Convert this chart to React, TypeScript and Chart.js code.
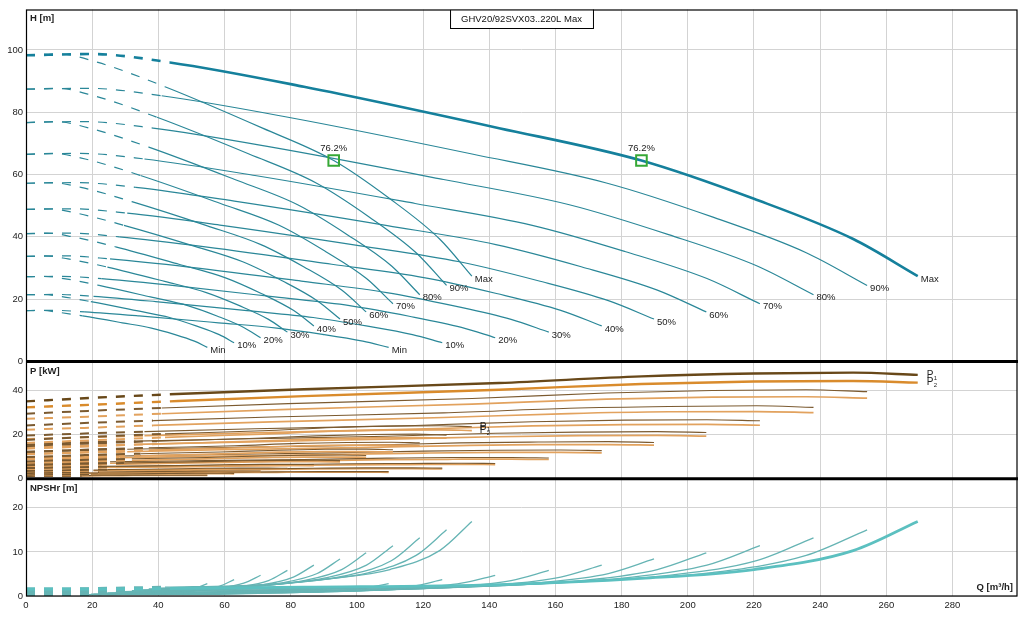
import React, { useEffect, useRef } from "react";
import { Chart, registerables } from "chart.js";

Chart.register(...registerables);

const FONT = "'Liberation Sans', Arial, sans-serif";

const speeds = ["Max", "90%", "80%", "70%", "60%", "50%", "40%", "30%", "20%", "10%", "Min"];

// flow points of each speed curve, one pump running [m³/h]
const singleQ = [
  [0, 10, 21.75, 42, 71.5, 93, 110, 125, 134.75],
  [0, 9.4, 20.5, 39.6, 67.4, 87.7, 103.7, 117.9, 127.1],
  [0, 8.8, 19.2, 37.1, 63.1, 82.1, 97.1, 110.4, 119.0],
  [0, 8.2, 17.9, 34.6, 58.8, 76.5, 90.5, 102.9, 110.9],
  [0, 7.6, 16.6, 32.0, 54.6, 71.0, 83.9, 95.4, 102.8],
  [0, 7.0, 15.3, 29.6, 50.3, 65.5, 77.4, 88.0, 94.9],
  [0, 6.5, 14.1, 27.1, 46.2, 60.1, 71.1, 80.8, 87.0],
  [0, 5.9, 12.7, 24.6, 41.9, 54.5, 64.5, 73.3, 79.0],
  [0, 5.3, 11.4, 22.1, 37.6, 48.9, 57.9, 65.8, 70.9],
  [0, 4.7, 10.2, 19.6, 33.4, 43.4, 51.4, 58.4, 62.9],
  [0, 4.1, 8.9, 17.1, 29.1, 37.9, 44.8, 50.9, 54.8],
];

// flow points, both pumps running
const twinQ = [
  [0, 20, 43.5, 84, 143, 186, 220, 250, 269.5],
  [0, 18.8, 41, 79.2, 134.8, 175.4, 207.4, 235.8, 254.2],
  [0, 17.6, 38.4, 74.2, 126.2, 164.2, 194.2, 220.8, 238],
  [0, 16.4, 35.8, 69.2, 117.6, 153, 181, 205.8, 221.8],
  [0, 15.2, 33.2, 64, 109.2, 142, 167.8, 190.8, 205.6],
  [0, 14, 30.6, 59.2, 100.6, 131, 154.8, 176, 189.8],
  [0, 13, 28.2, 54.2, 92.4, 120.2, 142.2, 161.6, 174],
  [0, 11.8, 25.4, 49.2, 83.8, 109, 129, 146.6, 158],
  [0, 10.6, 22.8, 44.2, 75.2, 97.8, 115.8, 131.6, 141.8],
  [0, 9.4, 20.4, 39.2, 66.8, 86.8, 102.8, 116.8, 125.8],
  [0, 8.2, 17.8, 34.2, 58.2, 75.8, 89.6, 101.8, 109.6],
];

// head [m] at those points (same for one and two pumps)
const headH = [
  [98.3, 98.7, 96.0, 88.2, 74.9, 64.5, 52.2, 39.3, 27.4],
  [87.4, 87.7, 85.3, 78.4, 66.6, 57.3, 46.4, 34.9, 24.4],
  [76.7, 77.0, 74.9, 68.8, 58.4, 50.3, 40.7, 30.7, 21.4],
  [66.5, 66.8, 65.0, 59.7, 50.7, 43.7, 35.3, 26.6, 18.5],
  [57.2, 57.4, 55.9, 51.3, 43.6, 37.5, 30.4, 22.9, 15.9],
  [48.8, 49.0, 47.6, 43.7, 37.2, 32.0, 25.9, 19.5, 13.6],
  [41.0, 41.2, 40.0, 36.8, 31.2, 26.9, 21.8, 16.4, 11.4],
  [33.7, 33.9, 32.9, 30.3, 25.7, 22.1, 17.9, 13.5, 9.4],
  [27.2, 27.3, 26.6, 24.4, 20.7, 17.9, 14.5, 10.9, 7.6],
  [21.4, 21.5, 20.9, 19.2, 16.3, 14.1, 11.4, 8.6, 6.0],
  [16.3, 16.4, 15.9, 14.6, 12.4, 10.7, 8.7, 6.5, 4.5],
];

// power input P1 / shaft power P2 [kW], one pump
const singleP1 = [
  [17.5, 18.3, 19.1, 20.3, 21.7, 23.2, 23.8, 24.0, 23.5],
  [14.7, 15.4, 16.0, 17.0, 18.2, 19.4, 20.0, 20.2, 19.7],
  [12.1, 12.6, 13.2, 14.0, 14.9, 16.0, 16.4, 16.5, 16.2],
  [9.8, 10.2, 10.7, 11.3, 12.1, 12.9, 13.3, 13.4, 13.1],
  [7.8, 8.2, 8.5, 9.0, 9.6, 10.3, 10.6, 10.7, 10.5],
  [6.1, 6.4, 6.7, 7.1, 7.6, 8.1, 8.3, 8.4, 8.2],
  [4.8, 5.0, 5.2, 5.5, 5.9, 6.3, 6.5, 6.5, 6.4],
  [3.5, 3.7, 3.9, 4.1, 4.4, 4.7, 4.8, 4.8, 4.7],
  [2.6, 2.7, 2.8, 3.0, 3.2, 3.4, 3.5, 3.5, 3.5],
  [1.8, 1.9, 2.0, 2.1, 2.2, 2.4, 2.5, 2.5, 2.4],
  [1.2, 1.3, 1.3, 1.4, 1.5, 1.6, 1.6, 1.6, 1.6],
];
const singleP2 = [
  [16.2, 16.8, 17.5, 18.7, 20.2, 21.5, 22.0, 22.1, 21.8],
  [13.6, 14.1, 14.7, 15.7, 16.9, 18.0, 18.5, 18.6, 18.3],
  [11.1, 11.5, 12.1, 12.9, 13.9, 14.8, 15.2, 15.2, 15.0],
  [9.0, 9.4, 9.8, 10.4, 11.2, 12.0, 12.3, 12.3, 12.1],
  [7.2, 7.5, 7.8, 8.3, 9.0, 9.5, 9.8, 9.8, 9.7],
  [5.7, 5.9, 6.1, 6.6, 7.1, 7.5, 7.7, 7.7, 7.6],
  [4.4, 4.5, 4.8, 5.1, 5.5, 5.8, 6.0, 6.0, 5.9],
  [3.3, 3.4, 3.5, 3.8, 4.1, 4.3, 4.4, 4.5, 4.4],
  [2.4, 2.5, 2.6, 2.8, 3.0, 3.2, 3.2, 3.3, 3.2],
  [1.7, 1.7, 1.8, 1.9, 2.1, 2.2, 2.3, 2.3, 2.2],
  [1.1, 1.2, 1.2, 1.3, 1.4, 1.5, 1.5, 1.5, 1.5],
];

// power, two pumps
const twinP1 = [
  [35.0, 36.6, 38.2, 40.5, 43.3, 46.3, 47.6, 48.0, 47.0],
  [29.4, 30.7, 32.0, 34.0, 36.3, 38.8, 39.9, 40.3, 39.4],
  [24.1, 25.2, 26.3, 27.9, 29.8, 31.9, 32.7, 33.0, 32.3],
  [19.5, 20.4, 21.3, 22.6, 24.1, 25.8, 26.5, 26.7, 26.2],
  [15.5, 16.3, 17.0, 18.0, 19.2, 20.6, 21.1, 21.3, 20.9],
  [12.2, 12.8, 13.3, 14.1, 15.1, 16.2, 16.6, 16.8, 16.4],
  [9.5, 9.9, 10.3, 10.9, 11.7, 12.5, 12.9, 13.0, 12.7],
  [7.0, 7.4, 7.7, 8.1, 8.7, 9.3, 9.6, 9.6, 9.4],
  [5.1, 5.3, 5.6, 5.9, 6.3, 6.8, 6.9, 7.0, 6.9],
  [3.6, 3.7, 3.9, 4.1, 4.4, 4.7, 4.9, 4.9, 4.8],
  [2.4, 2.5, 2.6, 2.7, 2.9, 3.1, 3.2, 3.2, 3.2],
];
const twinP2 = [
  [32.3, 33.5, 35.0, 37.4, 40.3, 42.9, 44.0, 44.2, 43.5],
  [27.1, 28.1, 29.4, 31.4, 33.8, 36.0, 36.9, 37.1, 36.5],
  [22.2, 23.0, 24.1, 25.7, 27.7, 29.5, 30.3, 30.4, 29.9],
  [18.0, 18.7, 19.5, 20.8, 22.4, 23.9, 24.5, 24.6, 24.2],
  [14.3, 14.9, 15.5, 16.6, 17.9, 19.0, 19.5, 19.6, 19.3],
  [11.3, 11.7, 12.2, 13.1, 14.1, 15.0, 15.4, 15.4, 15.2],
  [8.7, 9.0, 9.5, 10.1, 10.9, 11.6, 11.9, 11.9, 11.7],
  [6.5, 6.7, 7.0, 7.5, 8.1, 8.6, 8.8, 8.9, 8.7],
  [4.7, 4.9, 5.1, 5.5, 5.9, 6.3, 6.4, 6.5, 6.4],
  [3.3, 3.4, 3.6, 3.8, 4.1, 4.4, 4.5, 4.5, 4.4],
  [2.2, 2.3, 2.4, 2.5, 2.7, 2.9, 3.0, 3.0, 2.9],
];

// NPSHr [m] (same for one and two pumps at matching points)
const npshR = [
  [1.6, 1.6, 1.7, 2.0, 2.6, 4.0, 6.0, 10.3, 16.9],
  [1.4, 1.4, 1.5, 1.8, 2.3, 3.6, 5.3, 9.2, 15.0],
  [1.2, 1.2, 1.3, 1.6, 2.0, 3.1, 4.7, 8.0, 13.2],
  [1.1, 1.1, 1.2, 1.4, 1.8, 2.7, 4.1, 7.0, 11.4],
  [0.9, 0.9, 1.0, 1.2, 1.5, 2.3, 3.5, 6.0, 9.8],
  [0.8, 0.8, 0.8, 1.0, 1.3, 2.0, 3.0, 5.1, 8.4],
  [0.7, 0.7, 0.7, 0.8, 1.1, 1.7, 2.5, 4.3, 7.0],
  [0.5, 0.5, 0.6, 0.7, 0.9, 1.4, 2.1, 3.5, 5.8],
  [0.4, 0.4, 0.5, 0.6, 0.7, 1.1, 1.7, 2.9, 4.7],
  [0.3, 0.3, 0.4, 0.4, 0.6, 0.9, 1.3, 2.2, 3.7],
  [0.3, 0.3, 0.3, 0.3, 0.4, 0.7, 1.0, 1.7, 2.8],
];

// duty points
const markerQ = [93, 186];
const markerH = [64.5, 64.5];
const markerText = ["76.2%", "76.2%"];

const title = "GHV20/92SVX03..220L Max";

// below minimum flow the curves are dashed (index of last dashed point)
const SINGLE_DASH = 3;
const TWIN_DASH = 2;

const GRID = "#d3d3d3";
const HEAD = "#2a8798";
const HEAD_MAX = "#15809c";
const P1 = "#7b5a30";
const P2 = "#e2a25e";
const P1_MAX = "#684819";
const P2_MAX = "#d98b2c";
const NPSH = "#66b4b4";
const NPSH_MAX = "#5cc0c0";

const pts = (xs: number[], ys: number[]) => xs.map((x, i) => ({ x, y: ys[i] }));

function curve(xs: number[], ys: number[], axis: string, color: string, width: number, dashEnd: number, dashWidth = width) {
  return {
    type: "line" as const,
    data: pts(xs, ys),
    yAxisID: axis,
    borderColor: color,
    borderWidth: width,
    pointRadius: 0,
    pointHoverRadius: 0,
    fill: false,
    cubicInterpolationMode: "monotone" as const,
    segment: {
      borderDash: (c: any) => (c.p1DataIndex <= dashEnd ? [9, 9] : undefined),
      borderWidth: (c: any) => (c.p1DataIndex <= dashEnd ? dashWidth : undefined),
    },
  };
}

// no extra room for half tick labels at the panel edges
const noEdgePadding = (s: any) => {
  s.paddingTop = 0;
  s.paddingBottom = 0;
  s.paddingLeft = 0;
  s.paddingRight = 0;
};

function yAxis(weight: number, max: number, step: number) {
  return {
    type: "linear" as const,
    position: "left" as const,
    stack: "panels",
    stackWeight: weight,
    min: 0,
    max,
    grid: { color: GRID, drawTicks: false },
    border: { display: false },
    ticks: { stepSize: step, includeBounds: false, padding: 3, color: "#222", font: { size: 9.5 } },
    afterFit: (s: any) => {
      s.width = 26;
      noEdgePadding(s);
    },
  };
}

function pLabel(ctx: CanvasRenderingContext2D, x: number, y: number, sub: string) {
  ctx.textAlign = "left";
  ctx.font = `10px ${FONT}`;
  ctx.fillText("P", x, y);
  ctx.font = `6px ${FONT}`;
  ctx.fillText(sub, x + 7, y + 3);
}

const decorations = {
  id: "decorations",
  afterDraw(chart: any) {
    const { ctx, chartArea: a, scales } = chart;
    const { x, head, power, npsh } = scales;
    ctx.save();

    // frame and panel separators
    ctx.strokeStyle = "#000";
    ctx.lineWidth = 1.2;
    ctx.strokeRect(a.left + 0.5, a.top + 0.5, a.right - a.left - 0.5, a.bottom - a.top - 0.5);
    ctx.lineWidth = 3;
    for (const y of [head.bottom, power.bottom]) {
      ctx.beginPath();
      ctx.moveTo(a.left, y);
      ctx.lineTo(a.right + 1, y);
      ctx.stroke();
    }

    ctx.fillStyle = "#222";
    ctx.textBaseline = "middle";
    ctx.font = `9.5px ${FONT}`;
    ctx.textAlign = "left";

    // speed labels at curve ends
    speeds.forEach((s, i) => {
      for (const qs of [singleQ[i], twinQ[i]]) {
        const n = qs.length - 1;
        ctx.fillText(s, x.getPixelForValue(qs[n]) + 3, head.getPixelForValue(headH[i][n]) + 3);
      }
    });

    // efficiency at duty points
    ctx.textAlign = "center";
    markerQ.forEach((q, i) => {
      ctx.fillText(markerText[i], x.getPixelForValue(q), head.getPixelForValue(markerH[i]) - 12);
    });

    // P1 / P2 labels
    const last = twinQ[0].length - 1;
    pLabel(ctx, x.getPixelForValue(twinQ[0][last]) + 9, power.getPixelForValue(twinP1[0][last]), "1");
    pLabel(ctx, x.getPixelForValue(twinQ[0][last]) + 9, power.getPixelForValue(twinP2[0][last]), "2");
    pLabel(ctx, x.getPixelForValue(singleQ[0][last]) + 8, power.getPixelForValue(singleP1[0][last]), "1");
    pLabel(ctx, x.getPixelForValue(singleQ[0][last]) + 8, power.getPixelForValue(singleP2[0][last]), "2");

    // axis titles
    ctx.font = `bold 9.5px ${FONT}`;
    ctx.textAlign = "left";
    ctx.fillText("H [m]", a.left + 4, a.top + 9);
    ctx.fillText("P [kW]", a.left + 4, power.top + 10);
    ctx.fillText("NPSHr [m]", a.left + 4, npsh.top + 10);
    ctx.textAlign = "right";
    ctx.fillText("Q [m³/h]", a.right - 4, a.bottom - 9);

    // title box
    ctx.font = `9.5px ${FONT}`;
    const w = ctx.measureText(title).width + 22;
    const cx = (a.left + a.right) / 2;
    ctx.fillStyle = "#fff";
    ctx.fillRect(cx - w / 2, a.top, w, 19);
    ctx.lineWidth = 1;
    ctx.strokeRect(cx - w / 2 + 0.5, a.top + 0.5, w, 18.5);
    ctx.fillStyle = "#111";
    ctx.textAlign = "center";
    ctx.fillText(title, cx, a.top + 10);

    ctx.restore();
  },
};

export default function App() {
  const chartRef = useRef<HTMLCanvasElement | null>(null);

  useEffect(() => {
    Chart.defaults.font.family = FONT;
    Chart.defaults.font.size = 9.5;

    const datasets: any[] = [
      {
        type: "line",
        data: pts(markerQ, markerH),
        yAxisID: "head",
        showLine: false,
        pointStyle: "rect",
        pointRadius: 7.5,
        pointBorderWidth: 2,
        pointBorderColor: "#36a836",
        pointBackgroundColor: "rgba(0,0,0,0)",
      },
      // selected curve: both pumps at max speed
      curve(twinQ[0], headH[0], "head", HEAD_MAX, 2.6, TWIN_DASH),
      curve(twinQ[0], twinP1[0], "power", P1_MAX, 2.4, TWIN_DASH),
      curve(twinQ[0], twinP2[0], "power", P2_MAX, 2.4, TWIN_DASH),
      curve(twinQ[0], npshR[0], "npsh", NPSH_MAX, 2.8, TWIN_DASH, 3),
    ];

    speeds.forEach((_, i) => {
      datasets.push(curve(singleQ[i], headH[i], "head", HEAD, 1.2, SINGLE_DASH));
      if (i > 0) datasets.push(curve(twinQ[i], headH[i], "head", HEAD, 1.2, TWIN_DASH));
      datasets.push(curve(singleQ[i], singleP1[i], "power", P1, 1.1, SINGLE_DASH, 2));
      datasets.push(curve(singleQ[i], singleP2[i], "power", P2, 1.7, SINGLE_DASH, 2));
      if (i > 0) {
        datasets.push(curve(twinQ[i], twinP1[i], "power", P1, 1.1, TWIN_DASH, 2));
        datasets.push(curve(twinQ[i], twinP2[i], "power", P2, 1.7, TWIN_DASH, 2));
      }
      datasets.push(curve(singleQ[i], npshR[i], "npsh", NPSH, 1.3, SINGLE_DASH, 3));
      if (i > 0) datasets.push(curve(twinQ[i], npshR[i], "npsh", NPSH, 1.3, TWIN_DASH, 3));
    });

    const ctx = chartRef.current?.getContext("2d");
    if (!ctx) return;

    const chart = new Chart(ctx, {
      type: "line",
      data: { datasets },
      options: {
        animation: false,
        responsive: true,
        maintainAspectRatio: false,
        events: [],
        layout: { padding: { top: 6, right: 16, left: 0, bottom: 0 } },
        plugins: {
          legend: { display: false },
          tooltip: { enabled: false },
        },
        scales: {
          x: {
            type: "linear",
            min: 0,
            max: 299.5,
            grid: { color: GRID, drawTicks: false },
            border: { display: false },
            ticks: { stepSize: 20, includeBounds: false, padding: 4, color: "#222", font: { size: 9.5 } },
            afterFit: (s: any) => {
              s.height = 25;
              noEdgePadding(s);
            },
          },
          npsh: yAxis(1, 26.6, 10),
          power: yAxis(1, 53.1, 20),
          head: yAxis(3, 113, 20),
        } as any,
      },
      plugins: [decorations],
    });

    return () => {
      chart.destroy();
    };
  }, []);

  return (
    <div style={{ position: "fixed", left: 0, top: 0, width: 1033, height: 621, background: "#fff" }}>
      <canvas ref={chartRef}></canvas>
    </div>
  );
}
